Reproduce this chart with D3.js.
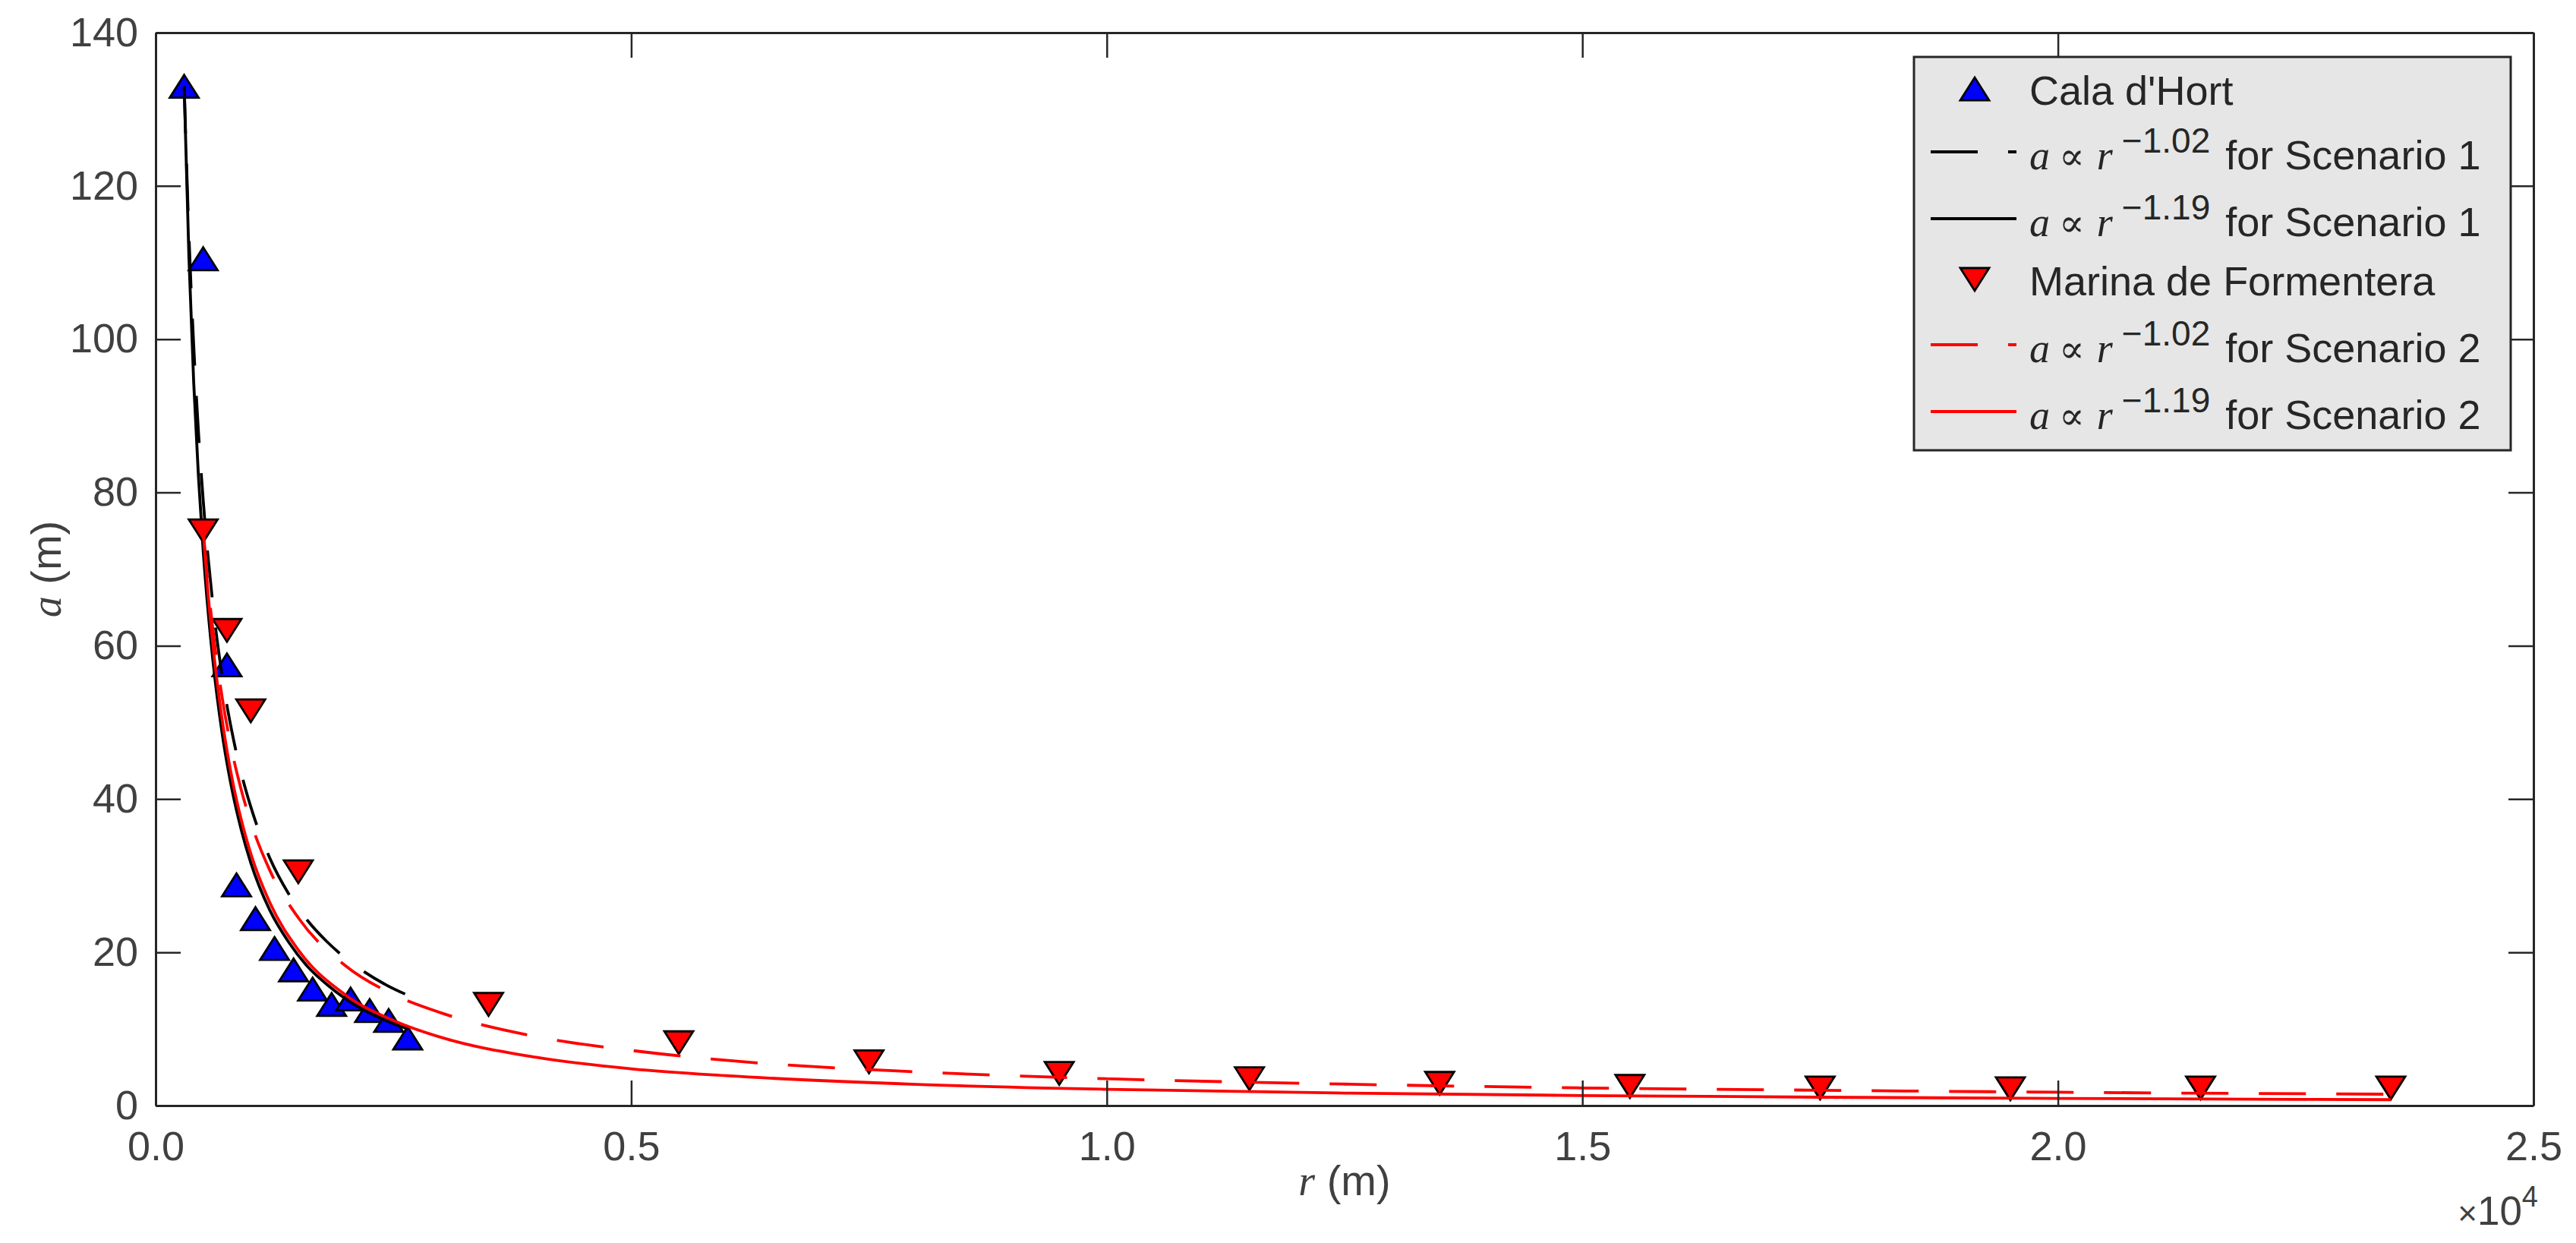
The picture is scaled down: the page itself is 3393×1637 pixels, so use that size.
<!DOCTYPE html>
<html>
<head>
<meta charset="utf-8">
<script src="https://cdn.jsdelivr.net/npm/d3@7"></script>
<style>
  body { margin: 0; background: #fff; }
  text { font-family: "Liberation Sans", Arial, sans-serif; }
</style>
</head>
<body>
<div id="chart"></div>
<script>
// measured points (r in m, a in m)
var calaR = [300, 500, 750, 850, 1050, 1250, 1450, 1650, 1850, 2050, 2250, 2450, 2650];
var calaA = [133, 110.5, 57.5, 28.8, 24.4, 20.5, 17.7, 15.2, 13.2, 13.9, 12.4, 11.1, 8.8];

var marinaR = [500, 750, 1000, 1500, 3500, 5500, 7500, 9500, 11500, 13500, 15500, 17500, 19500, 21500, 23500];
var marinaA = [75, 62, 51.5, 30.5, 13.2, 8.2, 5.7, 4.2, 3.5, 2.9, 2.5, 2.3, 2.2, 2.3, 2.3];

// fitted curves
var fit1R = [300, 350, 400, 450, 500, 600, 700, 800, 900, 1000, 1200, 1400, 1600, 1800, 2000, 2200, 2400, 2650];
var fit1DashA = [133, 113.6, 99.2, 87.9, 79.0, 65.6, 56.0, 48.9, 43.4, 39.0, 32.3, 27.6, 24.1, 21.4, 19.2, 17.4, 15.9, 14.4];
var fit1SolidA = [133, 110.7, 94.4, 82.1, 72.4, 58.3, 48.5, 41.4, 36.0, 31.7, 25.5, 21.3, 18.1, 15.8, 13.9, 12.4, 11.2, 10.0];

var fit2R = [500, 550, 600, 700, 800, 900, 1000, 1200, 1500, 2000, 2500, 3000, 4000, 5000, 6000, 8000, 10000, 12500, 15000, 17500, 20000, 23500];
var fit2DashA = [75, 68.1, 62.3, 53.2, 46.4, 41.2, 37.0, 30.7, 24.5, 18.2, 14.5, 12.1, 9.0, 7.2, 5.9, 4.4, 3.5, 2.8, 2.3, 2.0, 1.74, 1.48];
var fit2SolidA = [75, 67.0, 60.4, 50.3, 42.9, 37.3, 32.9, 26.5, 20.3, 14.4, 11.1, 8.9, 6.3, 4.8, 3.9, 2.77, 2.12, 1.63, 1.31, 1.09, 0.93, 0.77];

var xTicks = [0, 5000, 10000, 15000, 20000, 25000];
var yTicks = [0, 20, 40, 60, 80, 100, 120, 140];

var legendRows = [
  {kind: "up", label: "Cala d'Hort"},
  {kind: "line", color: "#000", dash: "62,40", exp: "\u22121.02", scen: "1"},
  {kind: "line", color: "#000", dash: null, exp: "\u22121.19", scen: "1"},
  {kind: "down", label: "Marina de Formentera"},
  {kind: "line", color: "#ff0000", dash: "62,40", exp: "\u22121.02", scen: "2"},
  {kind: "line", color: "#ff0000", dash: null, exp: "\u22121.19", scen: "2"}
];

var svgWidth = 3393;
var svgHeight = 1637;
var margin = {top: 43, right: 56, bottom: 181, left: 205};
var width = svgWidth - margin.left - margin.right;
var height = svgHeight - margin.top - margin.bottom;

var axisColor = "#262626";
var labelColor = "#404040";

var svg = d3.select("#chart")
  .append("svg")
  .attr("width", svgWidth)
  .attr("height", svgHeight)
  .style("display", "block");

svg.append("rect").attr("width", svgWidth).attr("height", svgHeight).attr("fill", "#fff");

var chartGroup = svg.append("g")
  .attr("transform", `translate(${margin.left}, ${margin.top})`);

var x = d3.scaleLinear().domain([0, 25000]).range([0, width]);
var y = d3.scaleLinear().domain([0, 140]).range([height, 0]);

// marker shape (triangle, centred on its box)
var triW = 38, triH = 30;
function triangle(down) {
  if (down) return `M${-triW / 2},${-triH / 2}L${triW / 2},${-triH / 2}L0,${triH / 2}Z`;
  return `M0,${-triH / 2}L${triW / 2},${triH / 2}L${-triW / 2},${triH / 2}Z`;
}

var line = d3.line()
  .x(d => x(d[0]))
  .y(d => y(d[1]))
  .curve(d3.curveMonotoneX);

function drawCurve(rs, as, color, dash) {
  chartGroup.append("path")
    .datum(d3.zip(rs, as))
    .attr("d", line)
    .attr("fill", "none")
    .attr("stroke", color)
    .attr("stroke-width", 3.8)
    .attr("stroke-dasharray", dash);
}

function drawPoints(rs, as, fill, down) {
  chartGroup.append("g")
    .selectAll("path")
    .data(d3.zip(rs, as))
    .enter()
    .append("path")
    .attr("transform", d => `translate(${x(d[0])}, ${y(d[1])})`)
    .attr("d", triangle(down))
    .attr("fill", fill)
    .attr("stroke", "#000")
    .attr("stroke-width", 2.8)
    .attr("stroke-linejoin", "miter");
}

// series, in the figure's order
drawPoints(calaR, calaA, "#0000ff", false);
drawCurve(fit1R, fit1DashA, "#000", "62,40");
drawCurve(fit1R, fit1SolidA, "#000", null);
drawPoints(marinaR, marinaA, "#ff0000", true);
drawCurve(fit2R, fit2DashA, "#ff0000", "62,40");
drawCurve(fit2R, fit2SolidA, "#ff0000", null);

// axes (ticks inside, mirrored on top / right)
var tickLen = 33;
function styleAxis(g) {
  g.select(".domain").attr("stroke", axisColor).attr("stroke-width", 3);
  g.selectAll(".tick line").attr("stroke", axisColor).attr("stroke-width", 2.5);
  g.selectAll(".tick text").attr("fill", labelColor).attr("font-size", 54)
    .attr("font-family", "Liberation Sans, Arial, sans-serif");
}

chartGroup.append("g")
  .attr("transform", `translate(0, ${height})`)
  .call(d3.axisBottom(x).tickValues(xTicks).tickSizeInner(-tickLen).tickSizeOuter(0)
    .tickPadding(34).tickFormat(d => (d / 1e4).toFixed(1)))
  .call(styleAxis);

chartGroup.append("g")
  .call(d3.axisLeft(y).tickValues(yTicks).tickSizeInner(-tickLen).tickSizeOuter(0)
    .tickPadding(23))
  .call(styleAxis);

chartGroup.append("g")
  .call(d3.axisTop(x).tickValues(xTicks).tickSizeInner(-tickLen).tickSizeOuter(0).tickFormat(""))
  .call(styleAxis);

chartGroup.append("g")
  .attr("transform", `translate(${width}, 0)`)
  .call(d3.axisRight(y).tickValues(yTicks).tickSizeInner(-tickLen).tickSizeOuter(0).tickFormat(""))
  .call(styleAxis);

// x10^4 exponent label
var expo = chartGroup.append("text")
  .attr("x", width + 6)
  .attr("y", height + 157)
  .attr("text-anchor", "end")
  .attr("fill", labelColor)
  .attr("font-size", 53);
expo.append("tspan").attr("font-size", 44).text("\u00d7");
expo.append("tspan").text("10");
expo.append("tspan").attr("font-size", 38).attr("dy", -24).text("4");

// axis titles
var xLabel = chartGroup.append("text")
  .attr("x", width / 2)
  .attr("y", height + 118)
  .attr("text-anchor", "middle")
  .attr("fill", labelColor)
  .attr("font-size", 56);
xLabel.append("tspan").attr("font-family", "Liberation Serif, serif").attr("font-style", "italic").text("r");
xLabel.append("tspan").text(" (m)");

var yLabel = chartGroup.append("text")
  .attr("transform", `translate(${80 - margin.left}, ${height / 2}) rotate(-90)`)
  .attr("text-anchor", "middle")
  .attr("fill", labelColor)
  .attr("font-size", 56);
yLabel.append("tspan").attr("font-family", "Liberation Serif, serif").attr("font-style", "italic").text("a");
yLabel.append("tspan").text(" (m)");

// legend
var legW = 786, legH = 518;
var legend = chartGroup.append("g")
  .attr("transform", `translate(${width - 30 - legW}, 32)`);

legend.append("rect")
  .attr("width", legW)
  .attr("height", legH)
  .attr("fill", "#e6e6e6")
  .attr("stroke", axisColor)
  .attr("stroke-width", 3);

var rowBase = [63, 148, 236, 314, 402, 490];

legendRows.forEach(function(row, i) {
  var base = rowBase[i];
  if (row.kind === "line") {
    legend.append("line")
      .attr("x1", 22).attr("x2", 135)
      .attr("y1", base - 23).attr("y2", base - 23)
      .attr("stroke", row.color)
      .attr("stroke-width", 3.8)
      .attr("stroke-dasharray", row.dash);
  } else {
    legend.append("path")
      .attr("transform", `translate(80, ${base - 21})`)
      .attr("d", triangle(row.kind === "down"))
      .attr("fill", row.kind === "down" ? "#ff0000" : "#0000ff")
      .attr("stroke", "#000")
      .attr("stroke-width", 2.8);
  }

  var t = legend.append("text")
    .attr("x", 152)
    .attr("y", base)
    .attr("fill", "#262626")
    .attr("font-size", 54);

  if (row.kind === "line") {
    t.append("tspan").attr("font-family", "Liberation Serif, serif").attr("font-style", "italic").text("a");
    t.append("tspan").attr("font-family", "DejaVu Serif, serif").attr("font-size", 50).attr("dx", 12).text("\u221d");
    t.append("tspan").attr("font-family", "Liberation Serif, serif").attr("font-style", "italic").attr("dx", 16).text("r");
    t.append("tspan").attr("font-size", 46).attr("dx", 12).attr("dy", -22).text(row.exp);
    t.append("tspan").attr("dx", 20).attr("dy", 22).text("for Scenario " + row.scen);
  } else {
    t.text(row.label);
  }
});
</script>
</body>
</html>
